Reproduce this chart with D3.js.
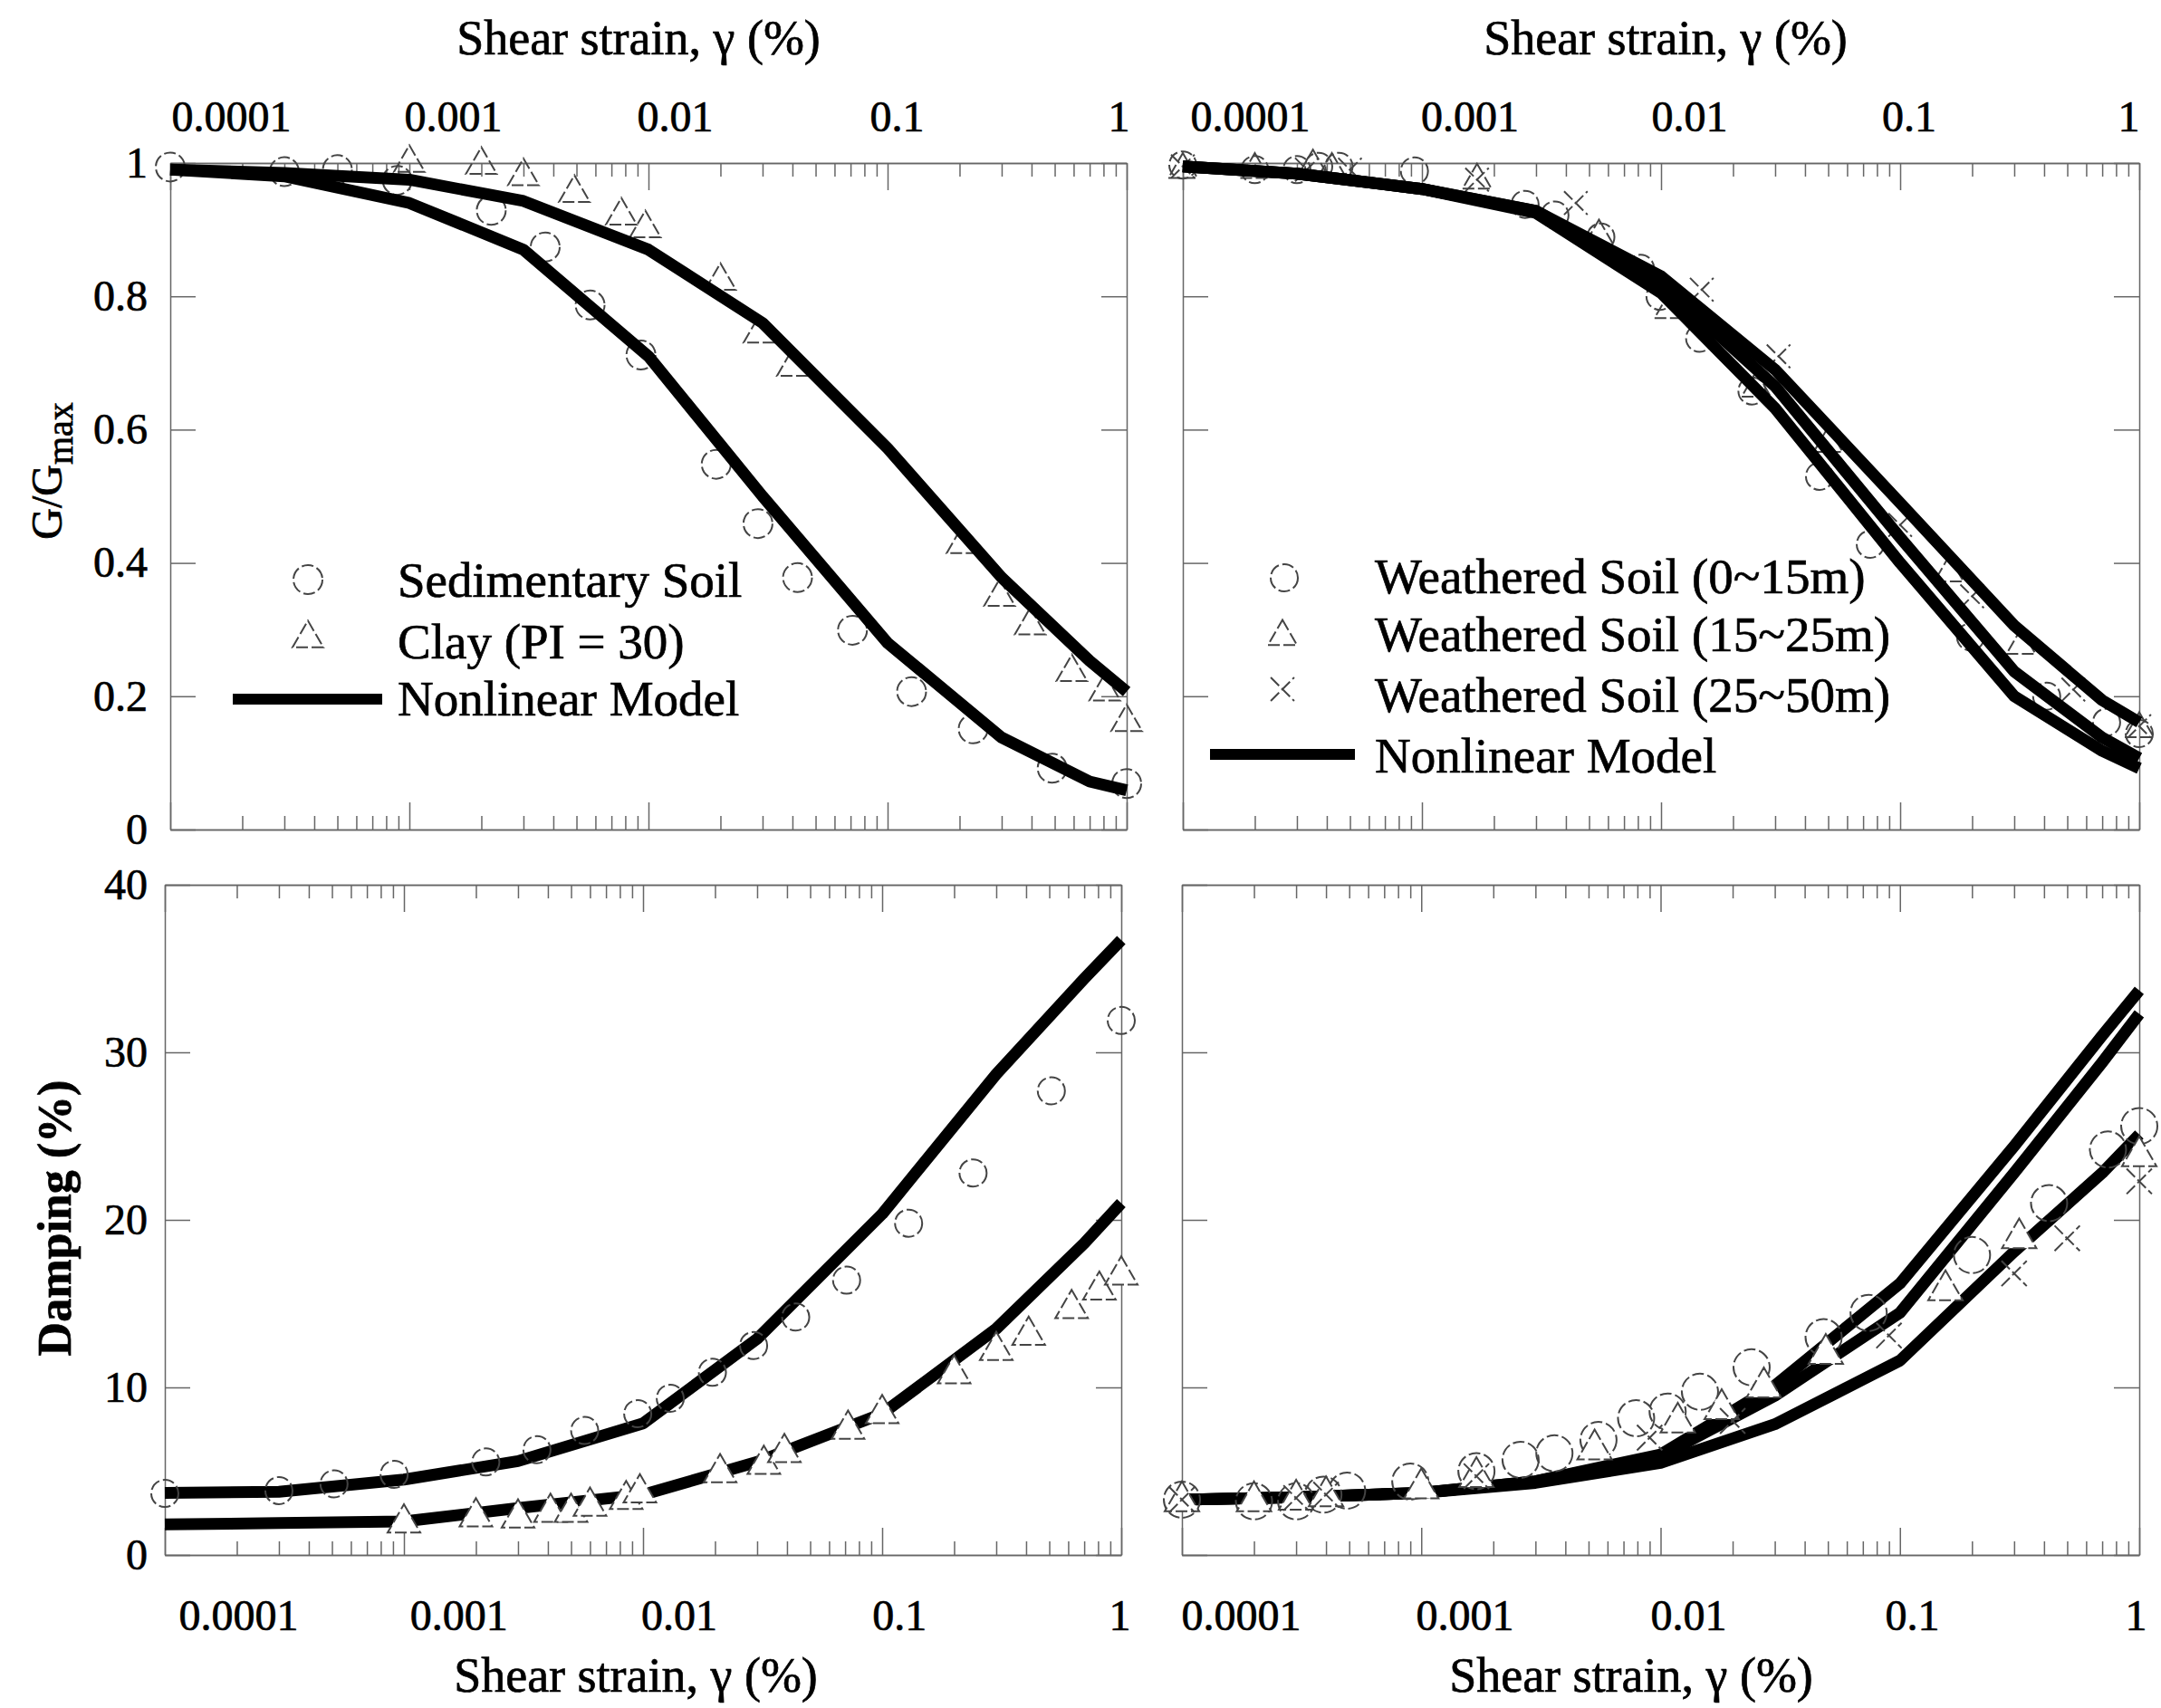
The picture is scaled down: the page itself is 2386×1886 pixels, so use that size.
<!DOCTYPE html>
<html>
<head>
<meta charset="utf-8">
<script src="https://cdn.jsdelivr.net/npm/d3@7"></script>
<style>
  body { margin: 0; background: #fff; }
  text { font-family: "Liberation Serif", "Times New Roman", serif; fill: #000; stroke: #000; stroke-width: 0.7px; }
</style>
</head>
<body>
<svg id="chart" width="2386" height="1886"></svg>
<script>
// ---- data ----
const decades = [0.0001, 0.001, 0.01, 0.1, 1];
const gTicks = [0, 0.2, 0.4, 0.6, 0.8, 1];
const dampTicks = [0, 10, 20, 30, 40];
const modelStrain = [0.0001, 0.0003, 0.001, 0.003, 0.01, 0.03, 0.1, 0.3, 0.7, 1];

// top left: G/Gmax
const sedModelG  = [0.99, 0.98, 0.94, 0.87, 0.71, 0.50, 0.28, 0.138, 0.072, 0.059];
const clayModelG = [0.99, 0.985, 0.975, 0.943, 0.87, 0.76, 0.572, 0.378, 0.253, 0.207];
const sedG = [[1e-4,0.994],[3e-4,0.987],[5e-4,0.99],[8.9e-4,0.974],[2.2e-3,0.929],[3.7e-3,0.874],
  [5.7e-3,0.787],[9.3e-3,0.712],[0.0192,0.548],[0.0287,0.459],[0.042,0.378],[0.0713,0.299],
  [0.126,0.207],[0.228,0.151],[0.488,0.092],[1,0.069]];
const clayG = [[1e-3,1.0],[2e-3,0.997],[3e-3,0.98],[4.9e-3,0.955],[7.7e-3,0.921],[9.7e-3,0.902],
  [0.02,0.823],[0.029,0.744],[0.04,0.694],[0.205,0.428],[0.294,0.349],[0.395,0.306],
  [0.59,0.236],[0.81,0.207],[1,0.161]];

// top right: G/Gmax, weathered soil
const ws1ModelG = [0.995, 0.984, 0.961, 0.928, 0.83, 0.69, 0.49, 0.306, 0.194, 0.161];
const ws2ModelG = [0.995, 0.984, 0.961, 0.928, 0.82, 0.665, 0.438, 0.237, 0.138, 0.107];
const ws3ModelG = [0.995, 0.984, 0.961, 0.925, 0.805, 0.632, 0.40, 0.20, 0.118, 0.092];
const ws1G = [[1e-4,0.997],[2e-4,0.99],[3e-4,0.99],[3.7e-4,0.995],[4.5e-4,0.995],[9.3e-4,0.988],
  [2.7e-3,0.938],[3.6e-3,0.922],[5.6e-3,0.889],[8.2e-3,0.842],[9.9e-3,0.80],[0.0145,0.737],
  [0.024,0.658],[0.046,0.53],[0.075,0.428],[0.197,0.289],[0.41,0.2],[0.73,0.161],[1,0.144]];
const ws2G = [[1e-4,0.99],[2e-4,0.99],[3.5e-4,0.995],[4.2e-4,0.99],[1.7e-3,0.974],[5.5e-3,0.89],
  [0.0108,0.78],[0.025,0.662],[0.05,0.579],[0.16,0.385],[0.32,0.276],[1,0.151]];
const ws3G = [[1e-4,0.995],[3.3e-4,0.99],[5e-4,0.99],[1.7e-3,0.975],[4.4e-3,0.94],[0.0148,0.81],
  [0.031,0.71],[0.1,0.457],[0.2,0.35],[0.53,0.21],[1,0.155]];

// bottom left: damping
const sedModelD  = [3.7, 3.77, 4.5, 5.6, 7.85, 12.9, 20.35, 28.7, 34.4, 36.7];
const clayModelD = [1.83, 1.9, 2.0, 2.8, 3.6, 5.55, 8.43, 13.5, 18.6, 21.0];
const sedD = [[1e-4,3.67],[3e-4,3.84],[5.1e-4,4.24],[9.1e-4,4.81],[2.2e-3,5.55],[3.6e-3,6.28],
  [5.7e-3,7.43],[9.5e-3,8.43],[0.013,9.35],[0.0195,10.9],[0.029,12.5],[0.0435,14.2],
  [0.071,16.4],[0.129,19.8],[0.24,22.8],[0.51,27.7],[1,31.9]];
const clayD = [[1e-3,1.9],[2e-3,2.27],[3e-3,2.2],[4.1e-3,2.54],[5e-3,2.54],[6e-3,2.9],
  [8.5e-3,3.3],[9.7e-3,3.7],[0.021,4.9],[0.032,5.4],[0.039,6.1],[0.072,7.5],[0.1,8.43],
  [0.2,10.8],[0.3,12.2],[0.41,13.1],[0.62,14.7],[0.81,15.8],[1,16.7]];

// bottom right: damping, weathered soil
const ws1ModelD = [3.3, 3.45, 3.7, 4.4, 6.0, 10.1, 16.2, 24.4, 31.0, 33.7];
const ws2ModelD = [3.3, 3.45, 3.7, 4.4, 5.9, 9.5, 14.45, 22.8, 29.4, 32.3];
const ws3ModelD = [3.3, 3.45, 3.7, 4.3, 5.5, 7.8, 11.6, 18.1, 22.8, 25.1];
const ws1D = [[1e-4,3.3],[2e-4,3.2],[3e-4,3.2],[3.9e-4,3.6],[4.9e-4,3.84],[9e-4,4.38],[1.7e-3,5.0],
  [2.6e-3,5.68],[3.6e-3,6.07],[5.5e-3,6.86],[7.9e-3,8.16],[0.0107,8.56],[0.0146,9.74],
  [0.024,11.2],[0.048,13.0],[0.074,14.45],[0.2,17.9],[0.42,21.0],[0.74,24.2],[1,25.6]];
const ws2D = [[1e-4,3.2],[2e-4,3.2],[3e-4,3.3],[4e-4,3.5],[1e-3,3.97],[1.7e-3,4.65],[5.3e-3,6.3],
  [0.0118,7.9],[0.018,8.7],[0.027,10.0],[0.049,12.0],[0.155,15.8],[0.315,18.9],[1,23.8]];
const ws3D = [[1e-4,3.3],[3e-4,3.4],[4e-4,3.6],[1.7e-3,4.7],[0.009,7.0],[0.02,8.0],[0.09,13.1],
  [0.3,16.8],[0.5,18.9],[1,22.3]];

// ---- drawing ----
const svg = d3.select("#chart");
const FONT_TICK = 48, FONT_TITLE = 54, FONT_LEG = 55;
const MARK_STROKE = "#444";
const AXIS_STROKE = "#666";

const isDecade = (t) => Math.abs(Math.log10(t) - Math.round(Math.log10(t))) < 1e-6;

function makePanel(cfg) {
  const x = d3.scaleLog().domain([1e-4, 1]).range(cfg.xr);
  const y = d3.scaleLinear().domain(cfg.yd).range(cfg.yr);
  const g = svg.append("g");
  const minor = x.ticks().filter(t => !isDecade(t));
  const [x0, x1] = cfg.xr, [yb, yt] = cfg.yr;

  // ticks pointing inwards on all four sides
  const addAxis = (axis, tr) => g.append("g").attr("transform", tr).call(axis)
      .call(a => a.selectAll("line,path").attr("stroke", AXIS_STROKE).attr("stroke-width", 1.5));
  addAxis(d3.axisBottom(x).tickValues(minor).tickSize(-15).tickSizeOuter(0).tickFormat(""), `translate(0,${yb})`);
  addAxis(d3.axisBottom(x).tickValues(decades).tickSize(-30).tickSizeOuter(0).tickFormat(""), `translate(0,${yb})`);
  addAxis(d3.axisTop(x).tickValues(minor).tickSize(-15).tickSizeOuter(0).tickFormat(""), `translate(0,${yt})`);
  addAxis(d3.axisTop(x).tickValues(decades).tickSize(-30).tickSizeOuter(0).tickFormat(""), `translate(0,${yt})`);
  addAxis(d3.axisLeft(y).tickValues(cfg.yticks).tickSize(-28).tickSizeOuter(0).tickFormat(""), `translate(${x0},0)`);
  addAxis(d3.axisRight(y).tickValues(cfg.yticks).tickSize(-28).tickSizeOuter(0).tickFormat(""), `translate(${x1},0)`);

  // strain labels (placed where the original figure prints them)
  if (cfg.xLabelRange) {
    const xl = d3.scaleLog().domain([1e-4, 1]).range(cfg.xLabelRange);
    const ax = cfg.xLabelTop ? d3.axisTop(xl) : d3.axisBottom(xl);
    g.append("g").attr("transform", `translate(0,${cfg.xLabelY})`)
      .call(ax.tickValues(decades).tickSize(0).tickPadding(0).tickFormat(d => String(d)))
      .call(a => a.select(".domain").remove())
      .call(a => a.selectAll("text").attr("y", 0).attr("dy", 0)
        .attr("font-size", FONT_TICK).attr("font-family", "Liberation Serif"));
  }
  if (cfg.yLabelX) {
    g.append("g").attr("transform", `translate(${cfg.yLabelX},0)`)
      .call(d3.axisLeft(y).tickValues(cfg.yticks).tickSize(0).tickPadding(0).tickFormat(d => String(d)))
      .call(a => a.select(".domain").remove())
      .call(a => a.selectAll("text").attr("dy", "0.32em")
        .attr("font-size", FONT_TICK).attr("font-family", "Liberation Serif"));
  }
  return {x, y, g};
}

function modelLine(p, vals) {
  const line = d3.line().x(d => p.x(d[0])).y(d => p.y(d[1]));
  p.g.append("path")
    .datum(modelStrain.map((s, i) => [s, vals[i]]))
    .attr("d", line)
    .attr("fill", "none")
    .attr("stroke", "#000")
    .attr("stroke-width", 13)
    .attr("stroke-linejoin", "round");
}

// r: circle radius, triangle side / 2, half-width of the cross
function symbolFor(kind, r) {
  if (kind === "circle") return d3.symbol(d3.symbolCircle, Math.PI * r * r);
  if (kind === "tri") return d3.symbol(d3.symbolTriangle, Math.sqrt(3) * r * r);
  return d3.symbol(d3.symbolTimes, 2.6 * r * r);
}

function markers(p, data, kind, r, fill) {
  p.g.append("g").selectAll("path")
    .data(data)
    .join("path")
    .attr("transform", d => `translate(${p.x(d[0])},${p.y(d[1])})`)
    .attr("d", symbolFor(kind, r))
    .attr("fill", fill || "none")
    .attr("stroke", MARK_STROKE)
    .attr("stroke-width", 2)
    .attr("stroke-dasharray", "13,4");
}

function legendMarker(kind, cx, cy, r) {
  svg.append("path")
    .attr("transform", `translate(${cx},${cy})`)
    .attr("d", symbolFor(kind, r))
    .attr("fill", "none")
    .attr("stroke", MARK_STROKE)
    .attr("stroke-width", 2)
    .attr("stroke-dasharray", "13,4");
}

function label(txt, x, y, size, opts = {}) {
  return svg.append("text").attr("x", x).attr("y", y)
    .attr("font-size", size)
    .attr("text-anchor", opts.anchor || "start")
    .attr("font-weight", opts.bold ? "bold" : "normal")
    .text(txt);
}

// top left
const tl = makePanel({xr: [188, 1244], yr: [916, 180], yd: [0, 1], yticks: gTicks,
  xLabelRange: [255, 1235], xLabelY: 145, xLabelTop: true, yLabelX: 163});
markers(tl, sedG, "circle", 16);
markers(tl, clayG, "tri", 17);
modelLine(tl, sedModelG);
modelLine(tl, clayModelG);

// top right
const tr = makePanel({xr: [1306, 2362], yr: [916, 180], yd: [0, 1], yticks: gTicks,
  xLabelRange: [1380, 2350], xLabelY: 145, xLabelTop: true});
markers(tr, ws1G, "circle", 15);
markers(tr, ws2G, "tri", 16);
markers(tr, ws3G, "x", 13);
modelLine(tr, ws1ModelG);
modelLine(tr, ws2ModelG);
modelLine(tr, ws3ModelG);

// bottom left
const bl = makePanel({xr: [182, 1238], yr: [1717, 977], yd: [0, 40], yticks: dampTicks,
  xLabelRange: [263, 1236], xLabelY: 1800, xLabelTop: false, yLabelX: 163});
modelLine(bl, sedModelD);
modelLine(bl, clayModelD);
markers(bl, sedD, "circle", 15);
markers(bl, clayD, "tri", 18, "#fff");

// bottom right
const br = makePanel({xr: [1305, 2362], yr: [1717, 977], yd: [0, 40], yticks: dampTicks,
  xLabelRange: [1370, 2358], xLabelY: 1800, xLabelTop: false});
modelLine(br, ws1ModelD);
modelLine(br, ws2ModelD);
modelLine(br, ws3ModelD);
markers(br, ws1D, "circle", 20);
markers(br, ws2D, "tri", 19, "#fff");
markers(br, ws3D, "x", 14);

// axis titles
label("Shear strain, \u03b3 (%)", 705, 60, FONT_TITLE, {anchor: "middle"});
label("Shear strain, \u03b3 (%)", 1839, 60, FONT_TITLE, {anchor: "middle"});
label("Shear strain, \u03b3 (%)", 702, 1868, FONT_TITLE, {anchor: "middle"});
label("Shear strain, \u03b3 (%)", 1801, 1868, FONT_TITLE, {anchor: "middle"});

const gLab = svg.append("text")
  .attr("transform", "translate(68,520) rotate(-90)")
  .attr("text-anchor", "middle")
  .attr("font-size", 48);
gLab.append("tspan").text("G/G");
gLab.append("tspan").attr("font-size", 40).attr("dy", 12).text("max");

svg.append("text")
  .attr("transform", "translate(78,1345) rotate(-90)")
  .attr("text-anchor", "middle")
  .attr("font-size", 52)
  .attr("font-weight", "bold")
  .text("Damping (%)");

// legends
legendMarker("circle", 340, 640, 16);
legendMarker("tri", 340, 705, 17);
svg.append("line").attr("x1", 257).attr("x2", 422).attr("y1", 772).attr("y2", 772)
  .attr("stroke", "#000").attr("stroke-width", 12);
label("Sedimentary Soil", 439, 659, FONT_LEG);
label("Clay (PI = 30)", 439, 727, FONT_LEG);
label("Nonlinear Model", 439, 790, FONT_LEG);

legendMarker("circle", 1418, 638, 15);
legendMarker("tri", 1416, 703, 16);
legendMarker("x", 1416, 761, 13);
svg.append("line").attr("x1", 1336).attr("x2", 1496).attr("y1", 833).attr("y2", 833)
  .attr("stroke", "#000").attr("stroke-width", 12);
label("Weathered Soil (0~15m)", 1518, 655, FONT_LEG);
label("Weathered Soil (15~25m)", 1518, 719, FONT_LEG);
label("Weathered Soil (25~50m)", 1518, 786, FONT_LEG);
label("Nonlinear Model", 1518, 853, FONT_LEG);
</script>
</body>
</html>
